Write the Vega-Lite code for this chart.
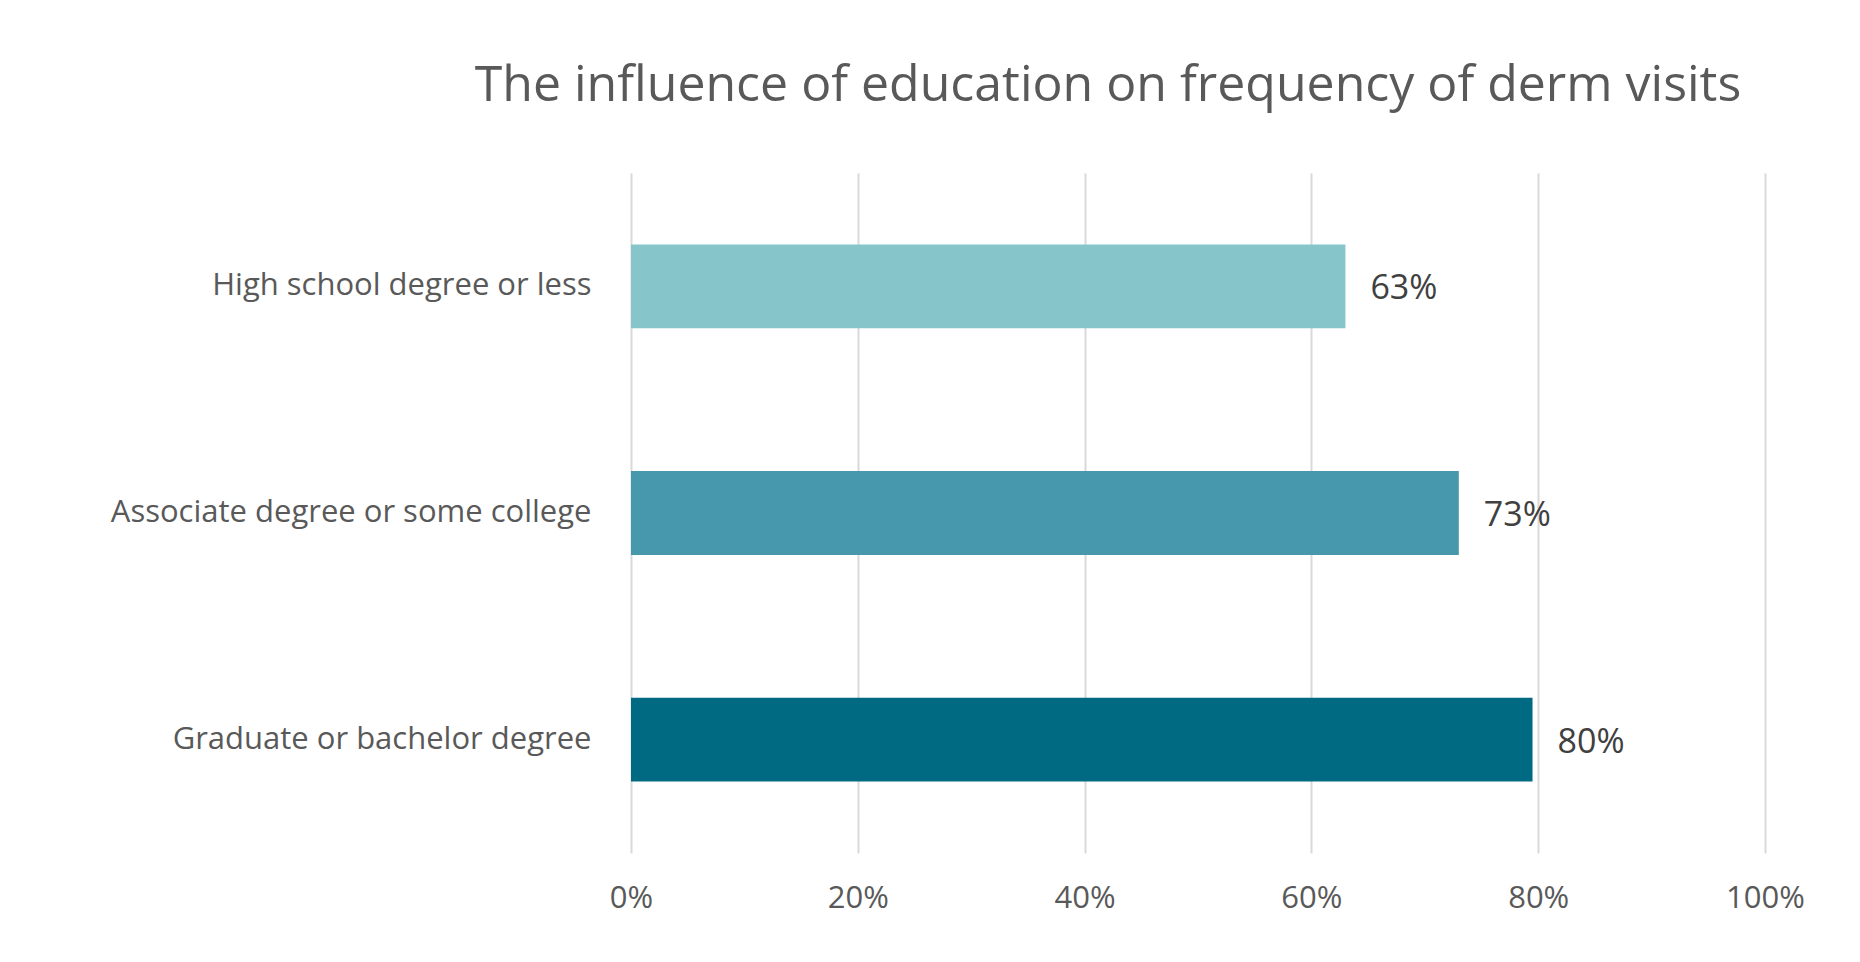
{
  "$schema": "https://vega.github.io/schema/vega-lite/v6.json",
  "autosize": "none",
  "padding": {"left": 631, "top": 173, "right": 95, "bottom": 109},
  "width": 1134,
  "height": 680,
  "background": "white",
  "title": {
    "text": "The influence of education on frequency of derm visits",
    "anchor": "middle",
    "frame": "group",
    "fontSize": 50,
    "font": "Open Sans",
    "fontWeight": "normal",
    "color": "#595959",
    "offset": 62,
    "dx": -90
  },
  "data": {
    "values": [
      {"group": "High school degree or less", "share": 0.63},
      {"group": "Associate degree or some college", "share": 0.73},
      {"group": "Graduate or bachelor degree", "share": 0.795}
    ]
  },
  "encoding": {
    "y": {
      "field": "group",
      "type": "nominal",
      "sort": null,
      "title": null,
      "scale": {"paddingInner": 0.63, "paddingOuter": 0.315},
      "axis": {"domain": false, "ticks": false, "labelFont": "Open Sans", "labelFontSize": 31, "labelColor": "#595959", "labelPadding": 40, "labelLimit": 700}
    },
    "x": {
      "field": "share",
      "type": "quantitative",
      "title": null,
      "scale": {"domain": [0, 1]},
      "axis": {"format": "%", "tickCount": 10, "values": [0,0.1,0.2,0.3,0.4,0.5,0.6,0.7,0.8,0.9,1], "domain": false, "ticks": false, "grid": true, "gridColor": "#d9d9d9", "gridWidth": 2, "labelFont": "Open Sans", "labelFontSize": 31, "labelColor": "#595959", "labelPadding": 30, "labelFlush": false}
    }
  },
  "layer": [
    {
      "mark": {"type": "bar"},
      "encoding": {
        "color": {
          "field": "group",
          "type": "nominal",
          "legend": null,
          "scale": {"domain": ["High school degree or less", "Associate degree or some college", "Graduate or bachelor degree"], "range": ["#86C5C9", "#4797AD", "#006A82"]}
        }
      }
    },
    {
      "mark": {"type": "text", "align": "left", "dx": 25, "dy": 3, "font": "Open Sans", "fontSize": 34, "color": "#404040"},
      "encoding": {"text": {"field": "share", "type": "quantitative", "format": ".0%"}}
    }
  ],
  "config": {"view": {"stroke": null}}
}
